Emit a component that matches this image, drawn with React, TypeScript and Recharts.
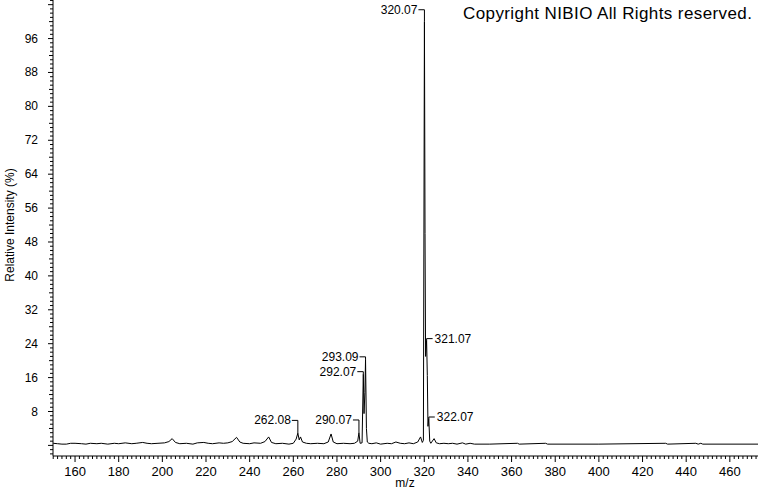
import React from "react";
import {
  LineChart,
  Line,
  XAxis,
  YAxis,
  ReferenceLine,
  ReferenceDot,
} from "recharts";

// profile spectrum (m/z, relative intensity %)
const MZ = [
  150, 152, 154, 156, 158, 160, 163, 165, 167, 170, 172, 175, 178, 180, 183,
  186, 188, 191, 193, 195, 198, 201, 203, 204.5, 206, 208, 211, 214, 216, 219,
  221, 223, 226, 228, 230, 232, 234, 235.5, 237, 240, 242, 245, 247, 248.7,
  250, 252, 255, 258, 260, 261.3, 262.08, 262.7, 263.3, 264.2, 266, 268, 271,
  274, 276, 277.3, 278.3, 280, 283, 286, 288, 289.5, 290.07, 290.6, 291.5,
  292.07, 292.4, 292.8, 293.09, 293.5, 293.9, 294.6, 296, 298, 300, 303, 305,
  307, 309, 311, 313, 315, 317, 318.3, 319.1, 319.6, 320.07, 320.35, 320.6,
  321.07, 321.4, 321.7, 322.07, 322.5, 323, 324.5, 325.5, 327, 329, 331, 333,
  335, 337.5, 339, 341, 343, 350, 362.7, 363.5, 375.6, 376.5, 400, 430.6,
  431.5, 444.4, 445.5, 446.7, 447.6, 472.9,
];
const INTENSITY = [
  0.5, 0.4, 0.3, 0.3, 0.5, 0.5, 0.4, 0.3, 0.5, 0.4, 0.5, 0.3, 0.5, 0.4, 0.6,
  0.4, 0.5, 0.7, 0.5, 0.4, 0.5, 0.6, 0.9, 1.6, 0.7, 0.4, 0.5, 0.3, 0.6, 0.7,
  0.5, 0.4, 0.6, 0.5, 0.6, 0.9, 1.9, 0.8, 0.5, 0.4, 0.6, 0.5, 0.9, 2.0,
  0.7, 0.4, 0.5, 0.3, 0.5, 1.5, 2.9, 1.3, 2.0, 0.8, 0.5, 0.4, 0.5,
  0.4, 0.8, 2.7, 0.8, 0.4, 0.5, 0.4, 0.5, 1.0, 3.0, 0.5, 0.6,
  16.8, 7.5, 12.5, 20.3, 4, 0.8, 0.5, 0.4, 0.6, 0.3, 0.5, 0.4,
  0.8, 0.5, 0.4, 0.6, 0.4, 0.8, 2.0, 0.7, 1.2, 100, 50, 21,
  24.8, 16.5, 4.5, 6.4, 1.0, 0.5, 1.6, 0.6, 0.4, 0.5, 0.4, 0.5,
  0.3, 0.6, 0.3, 0.5, 0.3, 0.3, 0.5, 0.3, 0.5, 0.3, 0.3, 0.5,
  0.3, 0.5, 0.3, 0.5, 0.3, 0.3,
];

// annotated peaks
const PEAK_MZ = [320.07, 321.07, 322.07, 293.09, 292.07, 290.07, 262.08];
const PEAK_TOP = [100, 24.8, 6.4, 20.3, 16.8, 3.0, 2.9];
const PEAK_LABEL_LEVEL = [102.8, 25.2, 6.7, 20.9, 17.4, 6.0, 5.9];
const PEAK_SIDE = ["left", "right", "right", "left", "left", "left", "left"];

const X_TICK_LABELS = [
  160, 180, 200, 220, 240, 260, 280, 300, 320, 340, 360, 380, 400, 420, 440, 460,
];
const Y_TICK_LABELS = [8, 16, 24, 32, 40, 48, 56, 64, 72, 80, 88, 96];

const X_DOMAIN: [number, number] = [149.9, 472.9];
const Y_DOMAIN: [number, number] = [-2.5, 105.1];

const X_MINOR: number[] = [];
for (let v = 150; v <= 472; v += 2) X_MINOR.push(v);
const Y_MINOR: number[] = [];
for (let v = -2; v <= 105; v += 1) Y_MINOR.push(v);

const FONT = "'Liberation Sans', Arial, sans-serif";

const data = MZ.map((m, i) => ({ mz: m, y: INTENSITY[i] }));

function XTick(props: any) {
  const { x, y, payload } = props;
  const v = payload.value;
  const major = X_TICK_LABELS.includes(v);
  return (
    <g>
      <line x1={x} x2={x} y1={y} y2={y + (major ? 6 : 3)} stroke="#000" />
      {major && (
        <text x={x} y={y + 20} textAnchor="middle" fontSize={13} fill="#000" fontFamily={FONT}>
          {v}
        </text>
      )}
    </g>
  );
}

function YTick(props: any) {
  const { x, y, payload } = props;
  const v = payload.value;
  const len = v % 8 === 0 ? 5 : v % 4 === 0 ? 4 : 3;
  return (
    <g>
      <line x1={x - len} x2={x} y1={y} y2={y} stroke="#000" />
      {Y_TICK_LABELS.includes(v) && (
        <text x={x - 15} y={y + 4} textAnchor="end" fontSize={12} fill="#000" fontFamily={FONT}>
          {v}
        </text>
      )}
    </g>
  );
}

function peakLabelShape(text: string, side: string) {
  return (p: any) => {
    const { cx, cy } = p;
    const left = side === "left";
    return (
      <g>
        <line x1={cx} x2={left ? cx - 6 : cx + 6} y1={cy} y2={cy} stroke="#000" />
        <text
          x={left ? cx - 7 : cx + 8}
          y={cy + 4}
          textAnchor={left ? "end" : "start"}
          fontSize={12}
          fill="#000"
          fontFamily={FONT}
        >
          {text}
        </text>
      </g>
    );
  };
}

export default function App() {
  return (
    <div
      style={{
        position: "absolute",
        left: 0,
        top: 0,
        width: 760,
        height: 492,
        background: "#fff",
      }}
    >
      <div
        style={{
          position: "absolute",
          left: 463,
          top: 4,
          fontFamily: FONT,
          fontSize: 17,
          letterSpacing: 0.4,
          color: "#000",
          whiteSpace: "nowrap",
        }}
      >
        Copyright NIBIO All Rights reserved.
      </div>
      <LineChart
        width={760}
        height={492}
        data={data}
        margin={{ top: 0, right: 2, bottom: 0, left: 0 }}
      >
        <XAxis
          dataKey="mz"
          type="number"
          domain={X_DOMAIN}
          allowDataOverflow
          ticks={X_MINOR}
          interval={0}
          tick={<XTick />}
          tickLine={false}
          tickSize={0}
          tickMargin={0}
          height={36}
          axisLine={{ stroke: "#000" }}
          label={() => (
            <text x={405} y={487} textAnchor="middle" fontSize={12} fill="#000" fontFamily={FONT}>
              m/z
            </text>
          )}
        />
        <YAxis
          type="number"
          domain={Y_DOMAIN}
          allowDataOverflow
          ticks={Y_MINOR}
          interval={0}
          tick={<YTick />}
          tickLine={false}
          tickSize={0}
          tickMargin={0}
          width={53}
          axisLine={{ stroke: "#000" }}
          label={() => (
            <text
              x={14}
              y={225}
              transform="rotate(-90 14 225)"
              textAnchor="middle"
              fontSize={12}
              fill="#000"
              fontFamily={FONT}
            >
              Relative Intensity (%)
            </text>
          )}
        />
        <Line
          type="linear"
          dataKey="y"
          stroke="#000"
          strokeWidth={1}
          dot={false}
          isAnimationActive={false}
        />
        {PEAK_MZ.map((m, i) => (
          <ReferenceLine
            key={"s" + i}
            segment={[
              { x: m, y: PEAK_LABEL_LEVEL[i] },
              { x: m, y: PEAK_TOP[i] },
            ]}
            stroke="#000"
            ifOverflow="visible"
          />
        ))}
        {PEAK_MZ.map((m, i) => (
          <ReferenceDot
            key={"d" + i}
            x={m}
            y={PEAK_LABEL_LEVEL[i]}
            r={0}
            ifOverflow="visible"
            shape={peakLabelShape(m.toFixed(2), PEAK_SIDE[i])}
          />
        ))}
      </LineChart>
    </div>
  );
}
